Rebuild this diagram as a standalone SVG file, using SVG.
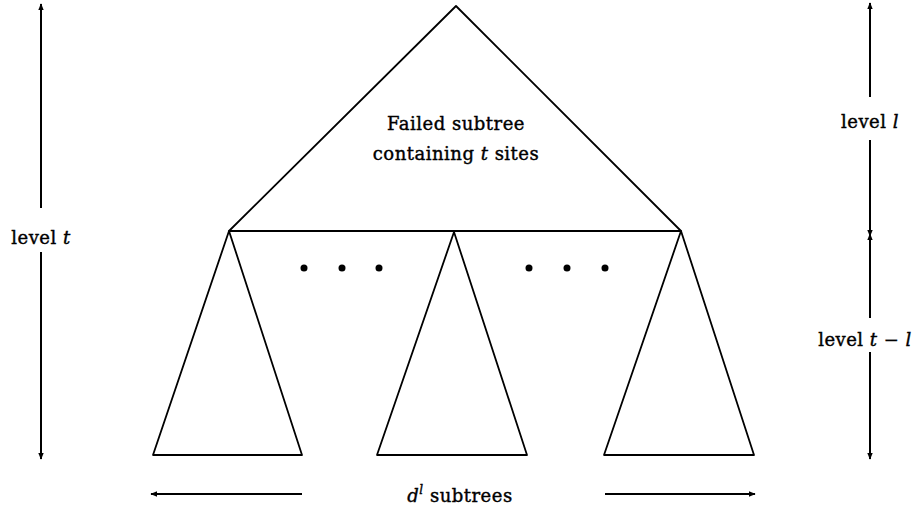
<svg xmlns="http://www.w3.org/2000/svg" width="918" height="509" viewBox="0 0 918 509">
<defs>
<marker id="ah" viewBox="0 0 10 10" refX="9" refY="5" markerWidth="7" markerHeight="7" orient="auto" markerUnits="userSpaceOnUse">
<path d="M0,1 L10,5 L0,9 Z" fill="#000"/>
</marker>
</defs>
<style>
.ln{stroke:#000;stroke-width:1.8;fill:none;stroke-linejoin:round}
.ar{stroke:#000;stroke-width:2;fill:none;marker-end:url(#ah)}
.tx{font-family:"DejaVu Serif","Liberation Serif",serif;font-size:18px;letter-spacing:0.5px;fill:#000;stroke:#000;stroke-width:0.4}
.it{font-style:italic}
</style>
<rect width="918" height="509" fill="#fff"/>
<g id="top-tree"><path class="ln" d="M456,6 L229,231 L681,231 Z"/>
<text class="tx" x="456" y="130" text-anchor="middle">Failed subtree</text>
<text class="tx" x="456" y="160" text-anchor="middle">containing <tspan class="it">t</tspan> sites</text></g>
<g id="subtree-left"><path class="ln" d="M229,231 L153,455 L302,455 Z"/></g>
<g id="subtree-mid"><path class="ln" d="M454,232 L377,455 L527,455 Z"/></g>
<g id="subtree-right"><path class="ln" d="M681,231 L604,455 L754,455 Z"/></g>
<g id="dots" fill="#000">
<circle cx="304" cy="268" r="3.5"/><circle cx="342" cy="268" r="3.5"/><circle cx="379" cy="268" r="3.5"/>
<circle cx="529" cy="268" r="3.5"/><circle cx="567" cy="268" r="3.5"/><circle cx="605" cy="268" r="3.5"/>
</g>
<g id="connectors">
<line class="ar" x1="41" y1="208" x2="41" y2="4"/>
<line class="ar" x1="41" y1="252" x2="41" y2="459"/>
<line class="ar" x1="870" y1="97" x2="870" y2="3"/>
<line class="ar" x1="870" y1="140" x2="870" y2="236"/>
<line class="ar" x1="870" y1="318" x2="870" y2="234"/>
<line class="ar" x1="870" y1="352" x2="870" y2="459"/>
<line class="ar" x1="302" y1="494" x2="151" y2="494"/>
<line class="ar" x1="605" y1="494" x2="755" y2="494"/>
</g>
<g id="labels">
<text class="tx" x="41" y="244" text-anchor="middle">level <tspan class="it">t</tspan></text>
<text class="tx" x="870" y="128" text-anchor="middle">level <tspan class="it">l</tspan></text>
<text class="tx" x="865" y="346" text-anchor="middle">level <tspan class="it">t</tspan> − <tspan class="it">l</tspan></text>
<text class="tx" x="460" y="502" text-anchor="middle"><tspan class="it">d</tspan><tspan class="it" font-size="12" dy="-8">l</tspan><tspan dy="8"> subtrees</tspan></text>
</g>
</svg>
